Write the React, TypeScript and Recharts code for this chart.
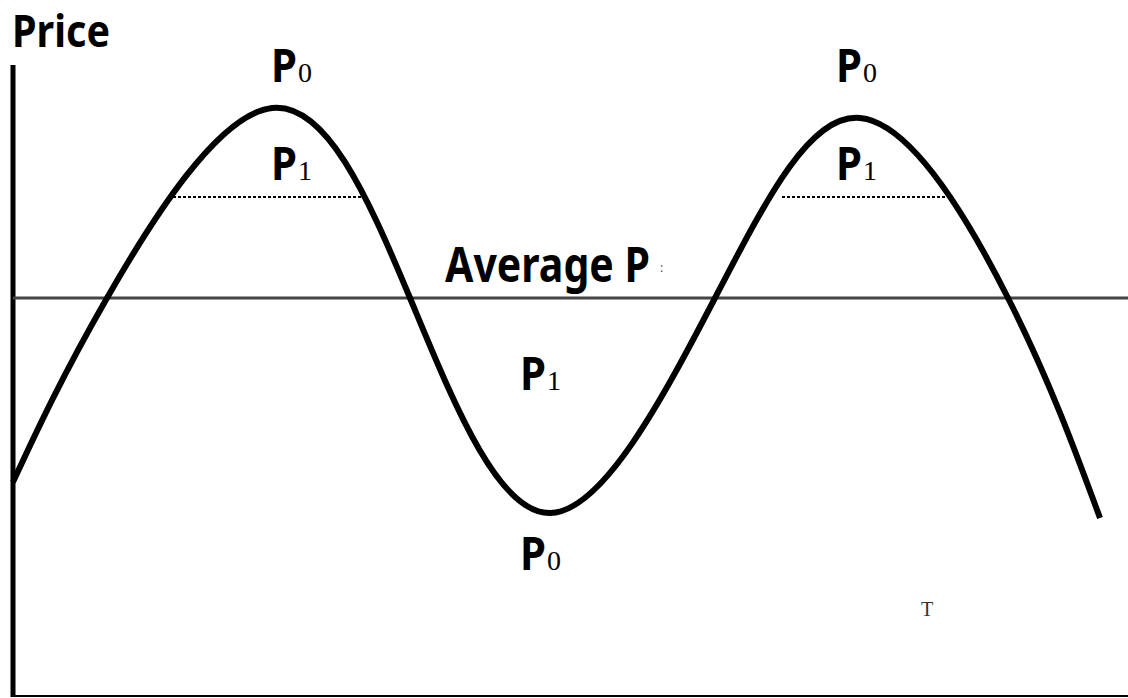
import { ComposedChart, Line, XAxis, YAxis, ReferenceLine, ReferenceDot } from "recharts";

// time (x) and price (y), price grows upward
const TIMES = [13, 107, 272, 410, 550, 715, 860, 1008, 1100];
const PRICES = [216, 400, 590, 400, 185, 400, 580, 400, 180];

const AVERAGE_PRICE = 400;
const P1_LEVEL = 501;
const P1_RANGES: [number, number][] = [[173, 362], [782, 950]];

type Tag = { x: number; y: number; sub: string };
const TAGS: Tag[] = [
  { x: 273, y: 616, sub: "0" },
  { x: 273, y: 518, sub: "1" },
  { x: 522, y: 308, sub: "1" },
  { x: 522, y: 128, sub: "0" },
  { x: 838, y: 616, sub: "0" },
  { x: 838, y: 518, sub: "1" },
];

const curve = TIMES.map((t, i) => ({ t, price: PRICES[i] }));

const BOLD = "'Noto Sans', 'Open Sans', sans-serif";

const PTag = (props: any) => {
  const { cx, cy, sub } = props;
  return (
    <text x={cx - 2} y={cy} fill="#000">
      <tspan fontFamily={BOLD} fontWeight={700} fontSize={47} textLength={26} lengthAdjust="spacingAndGlyphs">
        P
      </tspan>
      <tspan fontFamily="'Liberation Serif', serif" fontSize={28} dx={1}>
        {sub}
      </tspan>
    </text>
  );
};

const AverageLabel = (props: any) => {
  const { cx, cy } = props;
  return (
    <text x={cx} y={cy} fill="#000">
      <tspan fontFamily={BOLD} fontWeight={700} fontSize={49} textLength={205} lengthAdjust="spacingAndGlyphs">
        Average P
      </tspan>
      <tspan fontFamily={BOLD} fontSize={12} fill="#555" dx={10} dy={-10}>
        :
      </tspan>
    </text>
  );
};

const PlainText = (props: any) => {
  const { cx, cy, text, size, width, family, weight, color } = props;
  return (
    <text x={cx} y={cy} fontFamily={family} fontWeight={weight} fontSize={size} textLength={width} lengthAdjust="spacingAndGlyphs" fill={color}>
      {text}
    </text>
  );
};

export default function App() {
  return (
    <div style={{ position: "absolute", left: 0, top: 0, background: "#fff" }}>
      <ComposedChart width={1128} height={698} data={curve} margin={{ top: 0, right: 0, bottom: 0, left: 0 }}>
        <XAxis dataKey="t" type="number" domain={[0, 1128]} hide />
        <YAxis type="number" domain={[0, 698]} hide />

        {/* axes */}
        <ReferenceLine segment={[{ x: 13, y: 633 }, { x: 13, y: 1 }]} stroke="#000" strokeWidth={5} />
        <ReferenceLine segment={[{ x: 11, y: 2 }, { x: 1128, y: 2 }]} stroke="#000" strokeWidth={2} />

        <ReferenceLine segment={[{ x: 13, y: AVERAGE_PRICE }, { x: 1128, y: AVERAGE_PRICE }]} stroke="#444" strokeWidth={3} />
        {P1_RANGES.map(([a, b], i) => (
          <ReferenceLine key={`p1-${i}`} segment={[{ x: a, y: P1_LEVEL }, { x: b, y: P1_LEVEL }]} stroke="#000" strokeWidth={2} strokeDasharray="3 2" />
        ))}

        <Line dataKey="price" type="natural" stroke="#000" strokeWidth={6} dot={false} activeDot={false} isAnimationActive={false} />

        <ReferenceDot x={12} y={651} r={0} shape={(p: any) => <PlainText {...p} text="Price" size={45} width={98} family={BOLD} weight={700} color="#000" />} />
        <ReferenceDot x={445} y={416} r={0} shape={(p: any) => <AverageLabel {...p} />} />
        <ReferenceDot x={921} y={82} r={0} shape={(p: any) => <PlainText {...p} text="T" size={20} family="'Liberation Serif', serif" weight={400} color="#333" />} />
        {TAGS.map((tag, i) => (
          <ReferenceDot key={`tag-${i}`} x={tag.x} y={tag.y} r={0} shape={(p: any) => <PTag {...p} sub={tag.sub} />} />
        ))}
      </ComposedChart>
    </div>
  );
}
